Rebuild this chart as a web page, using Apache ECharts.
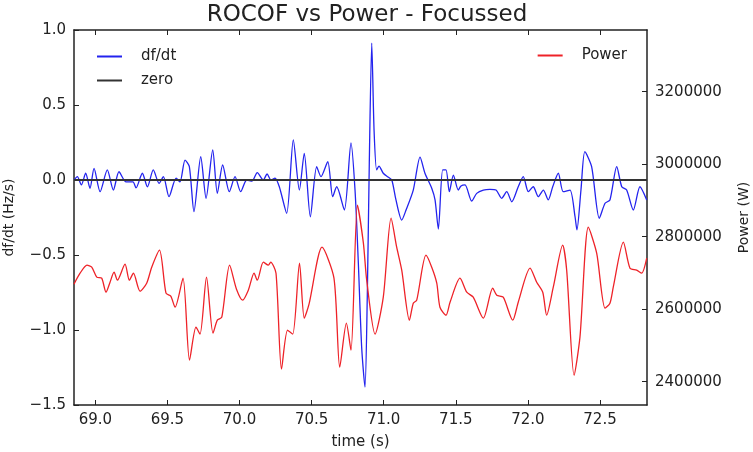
<!DOCTYPE html>
<html>
<head>
<meta charset="utf-8">
<script src="https://cdn.jsdelivr.net/npm/echarts@6/dist/echarts.min.js"></script>
<style>
  html, body { margin: 0; padding: 0; background: #fff; }
  #chart { width: 753px; height: 452px; }
</style>
</head>
<body>
<div id="chart"></div>
<script>
// time axis (s) and tick labels
const timeMin = 68.852;
const timeMax = 72.826;
const timeTicks = [69.0, 69.5, 70.0, 70.5, 71.0, 71.5, 72.0, 72.5];
const rocofTicks = [-1.5, -1.0, -0.5, 0.0, 0.5, 1.0];
const powerTicks = [2400000, 2600000, 2800000, 3000000, 3200000];
const powerMin = 2335700;
const powerMax = 3370200;
const zeroLevel = 0;

// df/dt (Hz/s)
const rocofTime = [68.852, 68.875, 68.903, 68.933, 68.963, 68.991, 69.033, 69.083, 69.125, 69.164,
  69.213, 69.261, 69.282, 69.326, 69.361, 69.402, 69.442, 69.472, 69.511, 69.560,
  69.587, 69.622, 69.652, 69.684, 69.731, 69.768, 69.814, 69.846, 69.883, 69.929,
  69.969, 70.008, 70.050, 70.087, 70.123, 70.165, 70.191, 70.218, 70.246, 70.276,
  70.327, 70.373, 70.415, 70.449, 70.491, 70.535, 70.565, 70.612, 70.646, 70.674,
  70.727, 70.773, 70.801, 70.824, 70.847, 70.870, 70.886, 70.900, 70.917, 70.933,
  70.951, 70.967, 70.997, 71.030, 71.056, 71.085, 71.125, 71.155, 71.205, 71.252,
  71.286, 71.333, 71.356, 71.379, 71.409, 71.432, 71.455, 71.483, 71.517, 71.536,
  71.564, 71.610, 71.645, 71.691, 71.737, 71.779, 71.818, 71.853, 71.888, 71.933,
  71.968, 72.003, 72.037, 72.072, 72.107, 72.141, 72.172, 72.211, 72.245, 72.292,
  72.327, 72.340, 72.368, 72.395, 72.442, 72.495, 72.535, 72.569, 72.616, 72.651,
  72.685, 72.731, 72.777, 72.824];
const rocofValues = [0.0, 0.022, -0.033, 0.045, -0.055, 0.078, -0.078, 0.067, -0.067, 0.055,
  -0.013, -0.013, -0.053, 0.045, -0.045, 0.067, -0.022, 0.022, -0.111, 0.013,
  -0.013, 0.133, 0.089, -0.211, 0.155, -0.122, 0.2, -0.089, 0.1, -0.078,
  0.022, -0.078, 0.0, -0.007, 0.049, 0.0, 0.04, 0.0, 0.013, -0.045,
  -0.222, 0.267, -0.067, 0.178, -0.245, 0.089, 0.022, 0.122, -0.111, -0.045,
  -0.2, 0.247, -0.067, -0.553, -1.113, -1.38, -0.78, 0.113, 0.913, 0.333,
  0.067, 0.093, 0.045, 0.02, 0.0, -0.133, -0.267, -0.2, -0.067, 0.153,
  0.045, -0.055, -0.133, -0.327, 0.067, 0.067, -0.078, 0.033, -0.067, -0.04,
  -0.033, -0.14, -0.089, -0.067, -0.062, -0.067, -0.122, -0.078, -0.145, -0.045,
  0.022, -0.078, -0.045, -0.111, -0.067, -0.133, -0.045, 0.045, -0.078, -0.067,
  -0.245, -0.333, -0.067, 0.189, 0.089, -0.255, -0.155, -0.133, 0.089, -0.045,
  -0.067, -0.2, -0.045, -0.133];

// Power (W)
const powerTime = [68.852, 68.894, 68.942, 68.975, 69.010, 69.044, 69.074, 69.102, 69.130, 69.153,
  69.206, 69.236, 69.264, 69.310, 69.356, 69.391, 69.445, 69.490, 69.523, 69.553,
  69.608, 69.653, 69.698, 69.726, 69.771, 69.816, 69.846, 69.877, 69.931, 69.979,
  70.022, 70.061, 70.101, 70.123, 70.165, 70.200, 70.216, 70.253, 70.291, 70.333,
  70.369, 70.416, 70.449, 70.482, 70.572, 70.655, 70.695, 70.741, 70.773, 70.818,
  70.859, 70.882, 70.940, 70.997, 71.051, 71.090, 71.125, 71.178, 71.205, 71.229,
  71.293, 71.333, 71.368, 71.390, 71.432, 71.460, 71.529, 71.576, 71.621, 71.691,
  71.756, 71.784, 71.829, 71.895, 71.933, 72.015, 72.061, 72.103, 72.130, 72.176,
  72.241, 72.269, 72.320, 72.361, 72.419, 72.477, 72.535, 72.569, 72.592, 72.662,
  72.708, 72.754, 72.789, 72.824];
const powerValues = [2669000, 2699300, 2721400, 2715900, 2688300, 2685500, 2646900, 2674500, 2702100, 2680000,
  2724100, 2680000, 2699300, 2649700, 2671700, 2715900, 2762800, 2644100, 2635900, 2605500,
  2685500, 2459300, 2550300, 2531000, 2688300, 2533800, 2569700, 2577900, 2721400, 2655200,
  2624800, 2652400, 2699300, 2680000, 2729700, 2721400, 2729700, 2699300, 2434500, 2542100,
  2531000, 2726900, 2575200, 2613800, 2771000, 2685500, 2440000, 2561400, 2486900, 2886900,
  2782100, 2680000, 2531000, 2633100, 2851000, 2771000, 2707600, 2569700, 2616600, 2624800,
  2749000, 2715900, 2671700, 2605500, 2583500, 2619300, 2685500, 2646900, 2633100, 2575200,
  2657900, 2638600, 2633100, 2569700, 2619300, 2713100, 2674500, 2646900, 2583500, 2660700,
  2776600, 2707600, 2417900, 2522800, 2826200, 2754500, 2602800, 2616600, 2660700, 2784800,
  2713100, 2707600, 2699300, 2740700];

const FONT = 'DejaVu Sans';
const AXIS_COLOR = '#222';

const chart = echarts.init(document.getElementById('chart'), null, { renderer: 'canvas' });

const fmtMinus = v => String(v).replace('-', '\u2212');

const option = {
  animation: false,
  backgroundColor: '#fff',
  title: {
    text: 'ROCOF vs Power - Focussed',
    left: 362,
    top: -1,
    textAlign: 'center',
    textStyle: { fontFamily: FONT, fontSize: 23, fontWeight: 'normal', color: '#222' },
  },
  legend: [
    {
      data: ['df/dt', 'zero'],
      orient: 'vertical',
      left: 92,
      top: 44,
      icon: 'rect',
      itemWidth: 25,
      itemHeight: 2,
      itemGap: 9,
      textStyle: { fontFamily: FONT, fontSize: 15, color: '#222', padding: [0, 0, 0, 14] },
    },
    {
      data: ['Power'],
      orient: 'vertical',
      right: 121,
      top: 43,
      icon: 'rect',
      itemWidth: 25,
      itemHeight: 2,
      textStyle: { fontFamily: FONT, fontSize: 15, color: '#222', padding: [0, 0, 0, 14] },
    },
  ],
  // fixed plot box, labels/names may sit outside it
  grid: { left: 74, right: 106, top: 30, bottom: 47, outerBoundsMode: 'none', containLabel: false },
  xAxis: [
    {
      type: 'value',
      min: timeMin,
      max: timeMax,
      name: 'time (s)',
      nameLocation: 'middle',
      nameGap: 30,
      nameTextStyle: { fontFamily: FONT, fontSize: 15, color: '#222' },
      axisLine: { show: true, onZero: false, lineStyle: { color: AXIS_COLOR, width: 1.5 } },
      axisTick: { inside: true, length: 5, customValues: timeTicks, lineStyle: { color: AXIS_COLOR } },
      axisLabel: {
        customValues: timeTicks,
        formatter: v => v.toFixed(1),
        fontFamily: FONT, fontSize: 15, color: '#222', margin: 8,
      },
      splitLine: { show: false },
    },
    {
      type: 'value',
      position: 'top',
      min: timeMin,
      max: timeMax,
      axisLine: { show: true, onZero: false, lineStyle: { color: AXIS_COLOR, width: 1.5 } },
      axisTick: { inside: true, length: 5, customValues: timeTicks, lineStyle: { color: AXIS_COLOR } },
      axisLabel: { show: false },
      splitLine: { show: false },
    },
  ],
  yAxis: [
    {
      type: 'value',
      min: -1.5,
      max: 1.0,
      interval: 0.5,
      name: 'df/dt (Hz/s)',
      nameLocation: 'middle',
      nameGap: 58,
      nameTextStyle: { fontFamily: FONT, fontSize: 14, color: '#222' },
      axisLine: { show: true, onZero: false, lineStyle: { color: AXIS_COLOR, width: 1.5 } },
      axisTick: { show: true, inside: true, length: 5, lineStyle: { color: AXIS_COLOR } },
      axisLabel: {
        formatter: v => fmtMinus(v.toFixed(1)),
        fontFamily: FONT, fontSize: 15, color: '#222', margin: 8,
      },
      splitLine: { show: false },
    },
    {
      type: 'value',
      position: 'right',
      min: powerMin,
      max: powerMax,
      name: 'Power (W)',
      nameLocation: 'middle',
      nameGap: 90,
      nameRotate: 90,
      nameTextStyle: { fontFamily: FONT, fontSize: 14, color: '#222' },
      axisLine: { show: true, onZero: false, lineStyle: { color: AXIS_COLOR, width: 1.5 } },
      axisTick: { show: true, inside: true, length: 5, customValues: powerTicks, lineStyle: { color: AXIS_COLOR } },
      axisLabel: {
        customValues: powerTicks,
        formatter: v => String(v),
        fontFamily: FONT, fontSize: 15, color: '#222', margin: 8,
      },
      splitLine: { show: false },
    },
  ],
  series: [
    {
      name: 'df/dt',
      type: 'line',
      xAxisIndex: 0,
      yAxisIndex: 0,
      data: rocofTime.map((t, i) => [t, rocofValues[i]]),
      symbol: 'none',
      smooth: 0.25,
      color: '#2323ee',
      lineStyle: { width: 1.3, color: '#2323ee' },
    },
    {
      name: 'zero',
      type: 'line',
      xAxisIndex: 0,
      yAxisIndex: 0,
      data: [[timeMin, zeroLevel], [timeMax, zeroLevel]],
      symbol: 'none',
      color: '#333',
      lineStyle: { width: 1.8, color: '#333' },
    },
    {
      name: 'Power',
      type: 'line',
      xAxisIndex: 0,
      yAxisIndex: 1,
      data: powerTime.map((t, i) => [t, powerValues[i]]),
      symbol: 'none',
      smooth: 0.25,
      color: '#ee2228',
      lineStyle: { width: 1.3, color: '#ee2228' },
    },
  ],
};

chart.setOption(option);
</script>
</body>
</html>
